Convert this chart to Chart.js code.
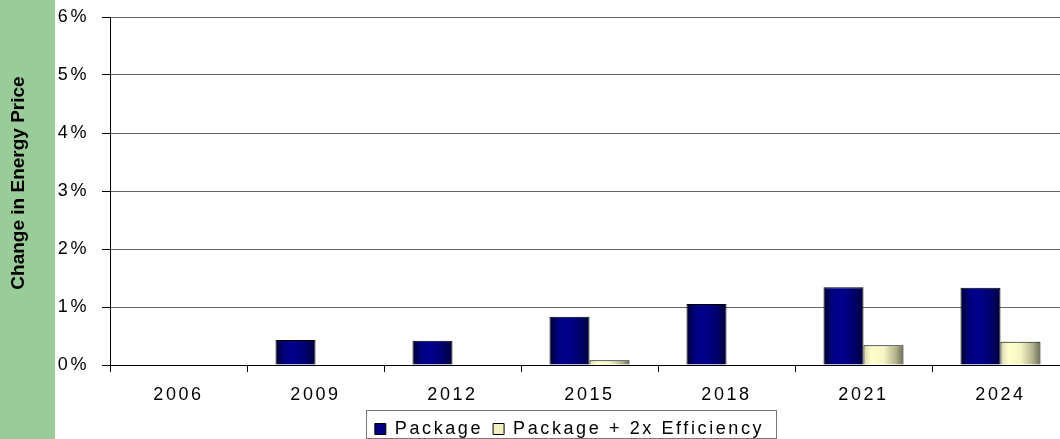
<!DOCTYPE html>
<html>
<head>
<meta charset="utf-8">
<title>Change in Energy Price</title>
<script src="https://cdn.jsdelivr.net/npm/chart.js@4"></script>
<style>
  html, body { margin: 0; padding: 0; background: #fff; overflow: hidden; }
  #wrap { position: relative; width: 1070px; height: 439px; }
</style>
</head>
<body>
<div id="wrap"><canvas id="price-chart"></canvas></div>
<script>
const years = ['2006', '2009', '2012', '2015', '2018', '2021', '2024'];
const packageVals = [0, 0.43, 0.42, 0.83, 1.05, 1.34, 1.33];
const efficiencyVals = [0, 0, 0, 0.08, 0, 0.34, 0.40];
const yTicks = [0, 1, 2, 3, 4, 5, 6];

const CAT_PCT = 0.584;

// horizontal shading across each bar, like the old office charts
const navyStops = [[0, '#00002e'], [0.22, '#000080'], [0.45, '#00008e'], [0.75, '#000070'], [1, '#000038']];
const creamStops = [[0, '#d6d6ac'], [0.2, '#ffffcc'], [0.5, '#f6f6c4'], [0.8, '#b4b48e'], [1, '#6c6c52']];

function barFill(stops, solid) {
    return function (ctx) {
        const chart = ctx.chart;
        const xs = chart.scales.x;
        if (ctx.type !== 'data' || !xs || !chart.chartArea) return solid;
        const center = xs.getPixelForValue(ctx.dataIndex);
        const barW = xs.width / years.length * CAT_PCT / 2;
        const left = center - barW + ctx.datasetIndex * barW;
        const g = chart.ctx.createLinearGradient(left, 0, left + barW, 0);
        stops.forEach(s => g.addColorStop(s[0], s[1]));
        return g;
    };
}

const SPACING = '2.6px';

const frame = {
    id: 'frame',
    beforeUpdate(chart) {
        chart.ctx.letterSpacing = SPACING;
    },
    afterLayout(chart) {
        // push the legend over so it sits under the middle of the plot
        const lg = chart.legend;
        lg.left += 35;
        lg.right += 35;
    },
    beforeDraw(chart) {
        const ctx = chart.ctx;
        ctx.save();
        ctx.fillStyle = '#99cc99';
        ctx.fillRect(0, 0, 55, chart.height);
        ctx.letterSpacing = '0px';
        ctx.translate(19, 183);
        ctx.rotate(-Math.PI / 2);
        ctx.fillStyle = '#000';
        ctx.font = 'bold 19px Arial, "Liberation Sans", sans-serif';
        ctx.textAlign = 'center';
        ctx.textBaseline = 'middle';
        ctx.fillText('Change in Energy Price', 0, 0);
        ctx.restore();
        ctx.letterSpacing = SPACING;
    },
    afterDraw(chart) {
        const boxes = chart.legend.legendHitBoxes;
        if (!boxes || !boxes.length) return;
        const l = Math.min(...boxes.map(b => b.left));
        const r = Math.max(...boxes.map(b => b.left + b.width));
        const t = Math.min(...boxes.map(b => b.top));
        const ctx = chart.ctx;
        ctx.save();
        ctx.strokeStyle = '#777';
        ctx.lineWidth = 1;
        ctx.strokeRect(Math.round(l) - 8.5, Math.round(t) - 9.5, Math.round(r - l) + 21, 28);
        ctx.restore();
    }
};

const cv = document.getElementById('price-chart');
new Chart(cv, {
    type: 'bar',
    data: {
        labels: years,
        datasets: [
            {
                label: 'Package',
                data: packageVals,
                backgroundColor: barFill(navyStops, '#000080'),
                borderColor: '#000',
                borderWidth: 1,
                categoryPercentage: CAT_PCT,
                barPercentage: 1
            },
            {
                label: 'Package + 2x Efficiency',
                data: efficiencyVals,
                backgroundColor: barFill(creamStops, '#ffffcc'),
                borderColor: '#000',
                borderWidth: 1,
                categoryPercentage: CAT_PCT,
                barPercentage: 1
            }
        ]
    },
    options: {
        responsive: true,
        maintainAspectRatio: false,
        animation: false,
        layout: { padding: { top: 17, right: 1, left: 0, bottom: -9 } },
        plugins: {
            tooltip: { enabled: false },
            legend: {
                position: 'bottom',
                labels: {
                    color: '#000',
                    font: { family: 'Arial, "Liberation Sans", sans-serif', size: 18 },
                    boxWidth: 11,
                    boxHeight: 11,
                    padding: 10,
                    generateLabels(chart) {
                        const fills = ['#000080', '#f0f0c0'];
                        return chart.data.datasets.map((ds, i) => ({
                            text: ds.label,
                            fillStyle: fills[i],
                            strokeStyle: '#000',
                            lineWidth: 1,
                            datasetIndex: i,
                            hidden: false
                        }));
                    }
                }
            }
        },
        scales: {
            x: {
                afterFit(scale) { scale.height = 45; },
                border: { color: '#000', width: 1 },
                grid: { offset: true, drawOnChartArea: false, color: '#000', tickLength: 7 },
                ticks: {
                    color: '#000',
                    padding: 12,
                    font: { family: 'Arial, "Liberation Sans", sans-serif', size: 18 }
                }
            },
            y: {
                min: 0,
                max: 6,
                afterFit(scale) {
                    scale.width = 110;
                    scale.paddingTop = 0;
                    scale.paddingBottom = 0;
                },
                afterBuildTicks(scale) { scale.ticks = yTicks.map(v => ({ value: v })); },
                border: { color: '#000', width: 1 },
                grid: { color: '#666', tickColor: '#000', tickLength: 8 },
                ticks: {
                    color: '#000',
                    padding: 13,
                    font: { family: 'Arial, "Liberation Sans", sans-serif', size: 18 },
                    callback: v => v + '%'
                }
            }
        }
    },
    plugins: [frame]
});
</script>
</body>
</html>
